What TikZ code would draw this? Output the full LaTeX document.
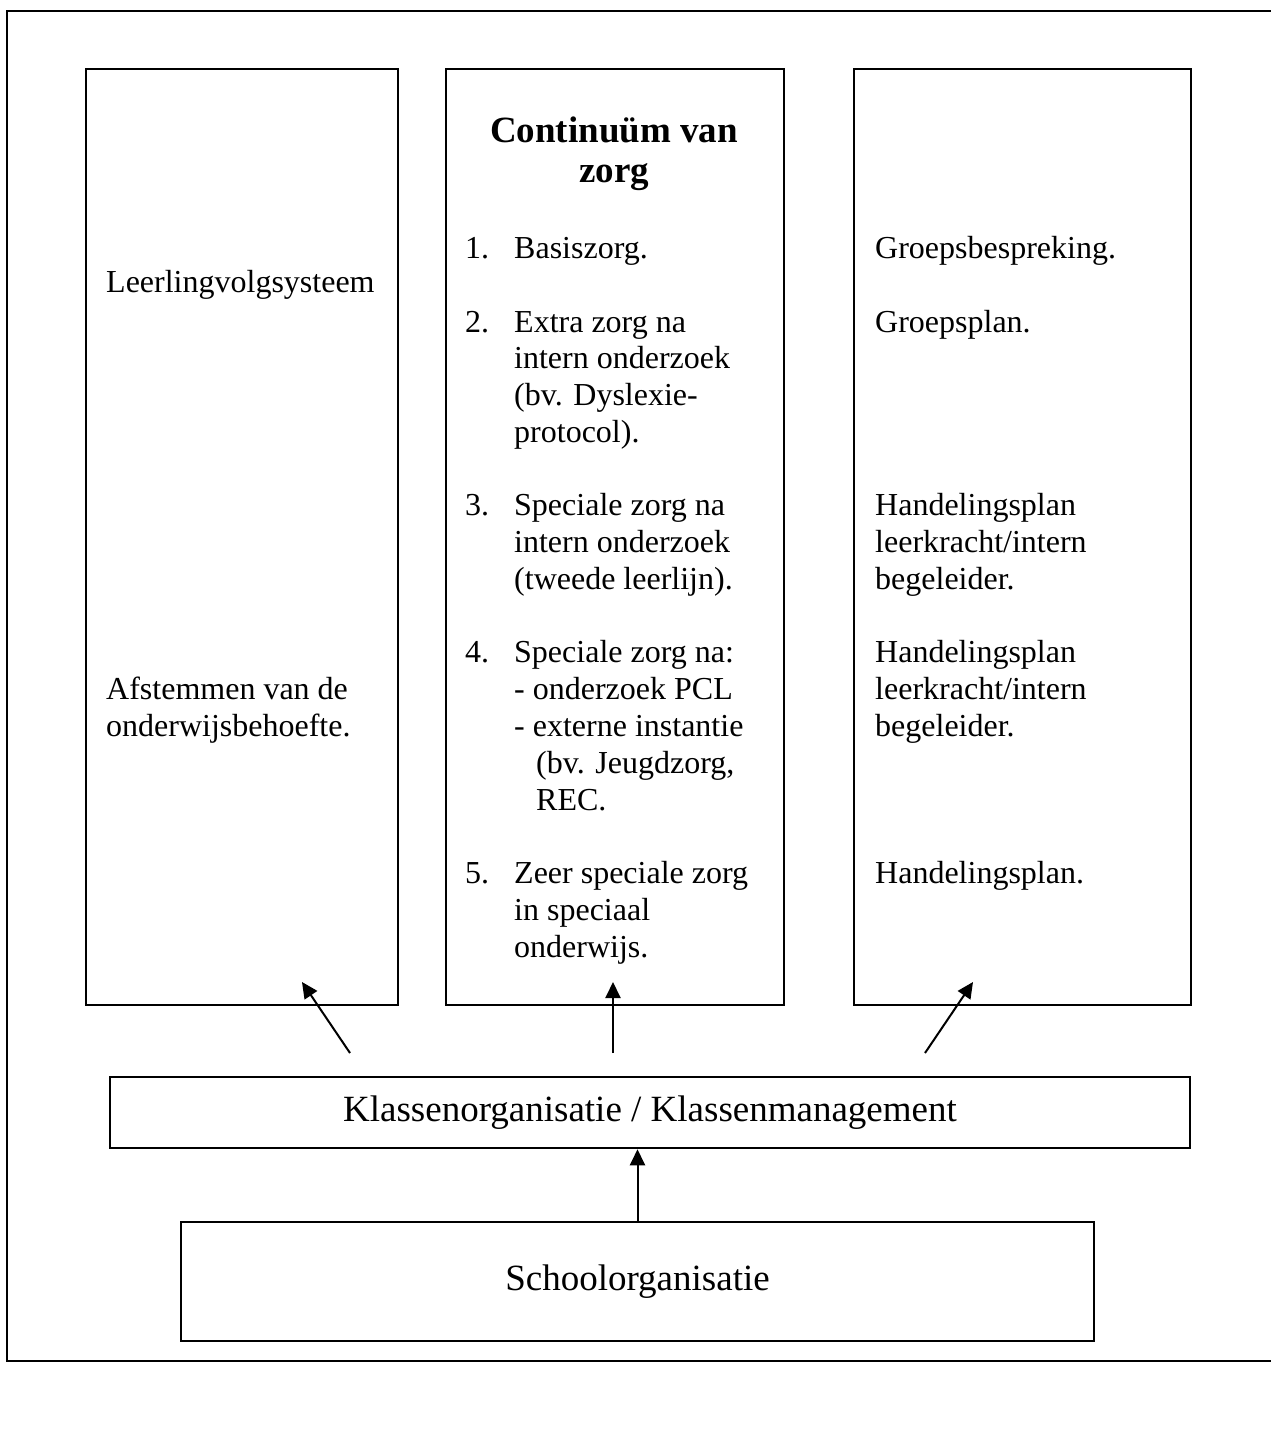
\documentclass[tikz,border=0pt]{standalone}
\usepackage{fontspec}
\setmainfont{Liberation Serif}
\usetikzlibrary{arrows.meta}

\tikzset{
  kader/.style={draw,line width=2pt,inner sep=0pt,anchor=north west},
  tekst/.style={anchor=base west,inner sep=0pt,font=\fontsize{32.0}{38.4}\selectfont},
  kop/.style={anchor=base,inner sep=0pt,font=\fontsize{37.0}{44.4}\selectfont\bfseries},
  pijl/.style={line width=2pt,-{Triangle[length=16pt,width=15pt]}}
}

\begin{document}
\begin{tikzpicture}[x=1pt,y=-1pt]
\path[use as bounding box] (0,0) rectangle (1271.0,1446.0);
\draw[line width=2.5pt] (7,11) rectangle (1280,1361);
% drie kolommen
\node[kader,minimum width=312pt,minimum height=936pt] (links) at (85,68) {};
\node[kader,minimum width=338pt,minimum height=936pt] (midden) at (445,68) {};
\node[kader,minimum width=337pt,minimum height=936pt] (rechts) at (853,68) {};
% linker kolom
\node[tekst] (lvs) at (106,292) {Leerlingvolgsysteem};
\node[tekst] (afst1) at (106,699) {Afstemmen van de};
\node[tekst] (afst2) at (106,736) {onderwijsbehoefte.};
% middelste kolom
\node[kop] (titel1) at (614,142) {Continuüm van};
\node[kop] (titel2) at (614,182) {zorg};
\node[tekst] (nr1) at (465,258) {1.};
\node[tekst] (z1) at (514,258) {Basiszorg.};
\node[tekst] (nr2) at (465,332) {2.};
\node[tekst] (z2a) at (514,332) {Extra zorg na};
\node[tekst] (z2b) at (514,368) {intern onderzoek};
\node[tekst] (z2c) at (514,405) {(bv. Dyslexie-};
\node[tekst] (z2d) at (514,442) {protocol).};
\node[tekst] (nr3) at (465,515) {3.};
\node[tekst] (z3a) at (514,515) {Speciale zorg na};
\node[tekst] (z3b) at (514,552) {intern onderzoek};
\node[tekst] (z3c) at (514,589) {(tweede leerlijn).};
\node[tekst] (nr4) at (465,662) {4.};
\node[tekst] (z4a) at (514,662) {Speciale zorg na:};
\node[tekst] (z4b) at (514,699) {- onderzoek PCL};
\node[tekst] (z4c) at (514,736) {- externe instantie};
\node[tekst] (z4d) at (536,773) {(bv. Jeugdzorg,};
\node[tekst] (z4e) at (536,810) {REC.};
\node[tekst] (nr5) at (465,883) {5.};
\node[tekst] (z5a) at (514,883) {Zeer speciale zorg};
\node[tekst] (z5b) at (514,920) {in speciaal};
\node[tekst] (z5c) at (514,957) {onderwijs.};
% rechter kolom
\node[tekst] (gb) at (875,258) {Groepsbespreking.};
\node[tekst] (gp) at (875,332) {Groepsplan.};
\node[tekst] (hp1a) at (875,515) {Handelingsplan};
\node[tekst] (hp1b) at (875,552) {leerkracht/intern};
\node[tekst] (hp1c) at (875,589) {begeleider.};
\node[tekst] (hp2a) at (875,662) {Handelingsplan};
\node[tekst] (hp2b) at (875,699) {leerkracht/intern};
\node[tekst] (hp2c) at (875,736) {begeleider.};
\node[tekst] (hp3) at (875,883) {Handelingsplan.};
% onderste blokken
\node[kader,line width=2.5pt,anchor=center,minimum width=1080pt,minimum height=71pt,font=\fontsize{37.0}{44.4}\selectfont] (klassen) at (650,1112.5) {Klassenorganisatie / Klassenmanagement};
\node[kader,line width=2.5pt,anchor=center,minimum width=913pt,minimum height=119pt,font=\fontsize{37.0}{44.4}\selectfont] (school) at (637.5,1281.5) {Schoolorganisatie};
% pijlen
\coordinate (pl0) at (350,1053);
\coordinate (pl1) at (302,982);
\coordinate (pm0) at (613,1053);
\coordinate (pm1) at (613,982);
\coordinate (pr0) at (925,1053);
\coordinate (pr1) at (973,982);
\draw[pijl] (pl0) -- (pl1);
\draw[pijl] (pm0) -- (pm1);
\draw[pijl] (pr0) -- (pr1);
\draw[pijl] (school.north) -- (school.north |- klassen.south);
\end{tikzpicture}
\end{document}
